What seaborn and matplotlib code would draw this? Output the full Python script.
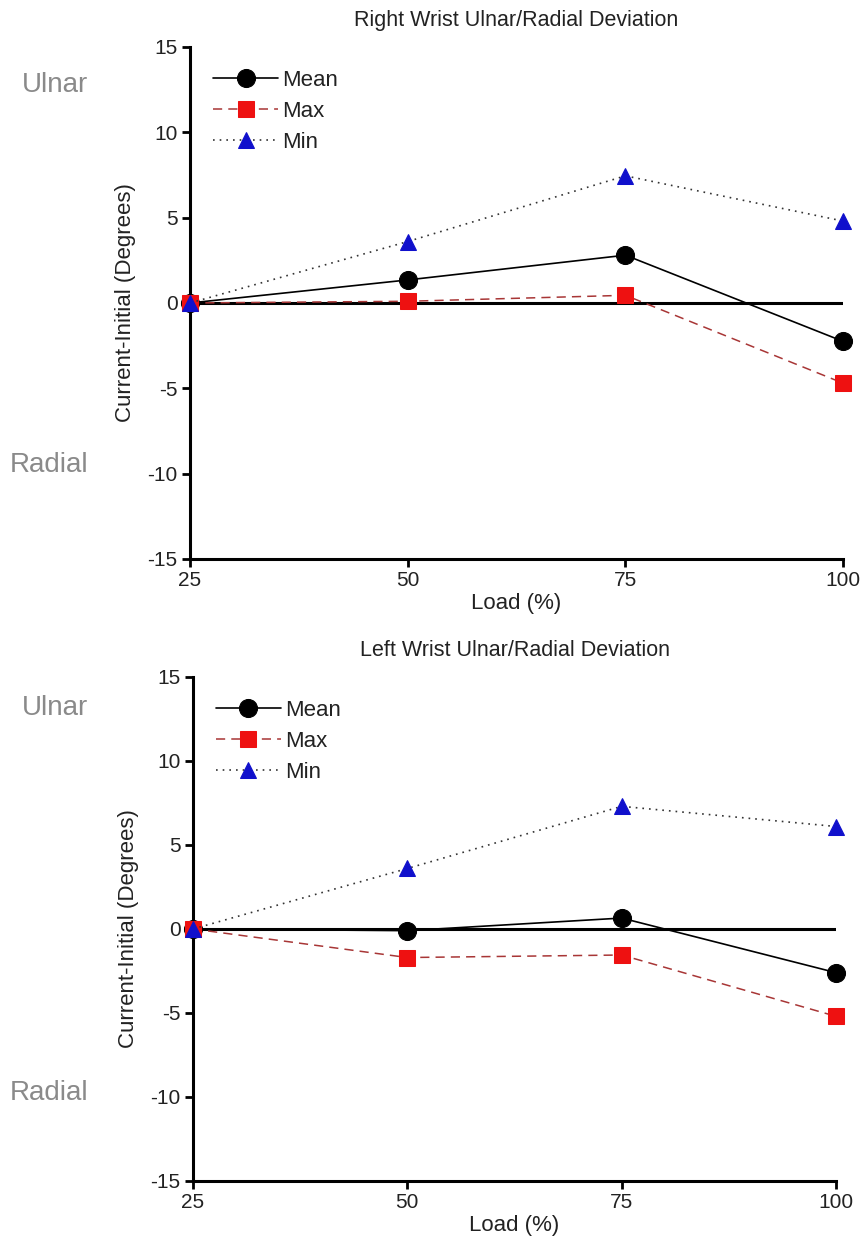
import matplotlib
matplotlib.use("Agg")
import matplotlib.pyplot as plt
import seaborn as sns
import pandas as pd

# Load levels (% of max) and wrist deviation change (current - initial, degrees)
load = [25, 50, 75, 100]

right_mean = [0.0, 1.35, 2.8, -2.25]
right_max = [0.0, 0.1, 0.45, -4.7]
right_min = [0.0, 3.6, 7.45, 4.8]

left_mean = [0.0, -0.1, 0.65, -2.6]
left_max = [0.0, -1.7, -1.55, -5.2]
left_min = [0.0, 3.6, 7.3, 6.1]

series_names = ["Mean", "Max", "Min"]
titles = ["Right Wrist Ulnar/Radial Deviation", "Left Wrist Ulnar/Radial Deviation"]
y_ticks = [-15, -10, -5, 0, 5, 10, 15]

sns.set_theme(style="white")
plt.rcParams["font.family"] = ["Liberation Sans", "DejaVu Sans"]
plt.rcParams["axes.unicode_minus"] = False

fig = plt.figure(figsize=(8.65, 12.53), dpi=100)
ax_top = fig.add_axes([0.2197, 0.5539, 0.755, 0.4086])
ax_bot = fig.add_axes([0.2231, 0.0575, 0.7434, 0.4022])

styles = {
    "Mean": dict(color="black", marker="o", markersize=13, linestyle="-",
                 linewidth=1.2, mfc="black", mec="black"),
    "Max": dict(color="#a83636", marker="s", markersize=11, linestyle=(0, (6, 4)),
                linewidth=1.1, mfc="#ee1111", mec="#ee1111"),
    "Min": dict(color="#333333", marker="^", markersize=12, linestyle=(0, (1, 3)),
                linewidth=1.2, mfc="#1010cc", mec="#1010cc"),
}

def draw(ax, values, title):
    ax.axhline(0, color="black", linewidth=2.2, zorder=1)
    for name, vals in zip(series_names, values):
        df = pd.DataFrame({"Load": load, "Value": vals})
        st = styles[name]
        sns.lineplot(data=df, x="Load", y="Value", ax=ax, label=name,
                     color=st["color"], marker=st["marker"],
                     markersize=st["markersize"], linestyle=st["linestyle"],
                     linewidth=st["linewidth"], markerfacecolor=st["mfc"],
                     markeredgecolor=st["mec"], zorder=3, clip_on=False)
    ax.set_xlim(25, 100)
    ax.set_ylim(-15, 15)
    ax.set_xticks(load)
    ax.set_yticks(y_ticks)
    for side in ["top", "right"]:
        ax.spines[side].set_visible(False)
    for side in ["left", "bottom"]:
        ax.spines[side].set_linewidth(2.2)
        ax.spines[side].set_color("black")
    ax.tick_params(axis="both", direction="out", length=6, width=2,
                   color="black", labelsize=15, labelcolor="#222222", pad=3,
                   left=True, bottom=True)
    ax.set_xlabel("Load (%)", fontsize=16, color="#222222", labelpad=2)
    ax.set_ylabel("Current-Initial (Degrees)", fontsize=16, color="#222222",
                  labelpad=8)
    ax.set_title(title, fontsize=15.5, color="#222222", pad=15)
    ax.legend(loc="upper left", bbox_to_anchor=(0.012, 0.985), frameon=False,
              fontsize=16, handlelength=2.9, handletextpad=0.2,
              labelspacing=0.45, borderaxespad=0.3, labelcolor="#222222")
    ax.grid(False)

draw(ax_top, [right_mean, right_max, right_min], titles[0])
draw(ax_bot, [left_mean, left_max, left_min], titles[1])

# Direction labels beside each panel
side_kw = dict(fontsize=20, color="#8a8a8a", ha="left", va="center")
fig.text(22 / 865, 1 - 85 / 1253, "Ulnar", **side_kw)
fig.text(10 / 865, 1 - 465 / 1253, "Radial", **side_kw)
fig.text(22 / 865, 1 - 708 / 1253, "Ulnar", **side_kw)
fig.text(10 / 865, 1 - 1093 / 1253, "Radial", **side_kw)

fig.savefig("out.png", dpi=100, facecolor="white")
